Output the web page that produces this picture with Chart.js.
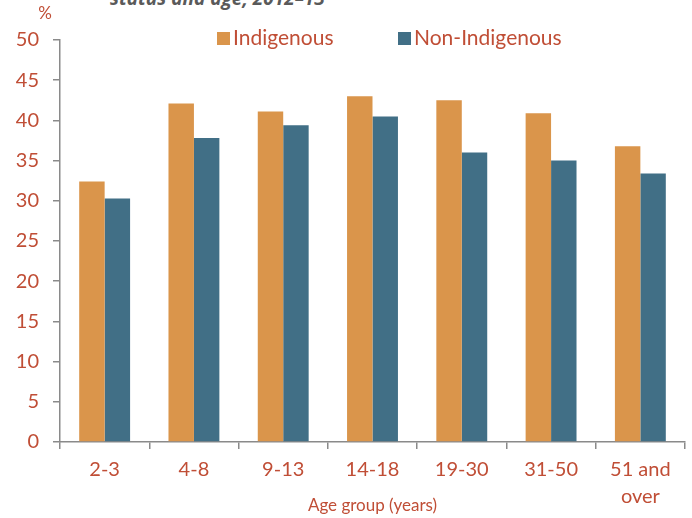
<!DOCTYPE html>
<html>
<head>
<meta charset="utf-8">
<script src="https://cdn.jsdelivr.net/npm/chart.js@4/dist/chart.umd.min.js"></script>
<style>
  html, body { margin: 0; padding: 0; background: #fff; }
  #wrap { position: relative; width: 692px; height: 518px; overflow: hidden; }
  #title { position: absolute; left: 110px; top: -15px; font: italic bold 19px "Open Sans", sans-serif; color: #5a5a5a; white-space: nowrap; }
  canvas { position: absolute; left: 0; top: 0; }
</style>
</head>
<body>
<div id="wrap">
  <div id="title">status and age, 2012–13</div>
  <canvas id="c" width="692" height="518"></canvas>
</div>
<script>
const categories = ['2-3', '4-8', '9-13', '14-18', '19-30', '31-50', ['51 and', 'over']];
const indigenous = [32.4, 42.1, 41.1, 43.0, 42.5, 40.9, 36.8];
const nonIndigenous = [30.3, 37.8, 39.4, 40.5, 36.0, 35.0, 33.4];
const seriesNames = ['Indigenous', 'Non-Indigenous'];
const yTicks = [0, 5, 10, 15, 20, 25, 30, 35, 40, 45, 50];

const TEXT = '#c04e36';
const FONT = 'Lato, "Open Sans", sans-serif';
const AXIS = '#8a8a8a';

const overlay = {
  id: 'overlay',
  afterDraw(chart) {
    const ctx = chart.ctx;
    ctx.save();
    // unit label
    ctx.fillStyle = TEXT;
    ctx.font = '17px ' + FONT;
    ctx.textAlign = 'center';
    ctx.textBaseline = 'middle';
    ctx.fillText('%', 45, 14);
    // legend
    const items = [{x: 217}, {x: 398}];
    ctx.font = '21px ' + FONT;
    ctx.textAlign = 'left';
    chart.data.datasets.forEach((ds, i) => {
      const x = items[i].x;
      ctx.fillStyle = ds.backgroundColor;
      ctx.fillRect(x, 32, 13, 13);
      ctx.fillStyle = TEXT;
      ctx.fillText(ds.label, x + 16, 38.5);
    });
    ctx.restore();
  }
};

new Chart(document.getElementById('c'), {
  type: 'bar',
  data: {
    labels: categories,
    datasets: [
      { label: seriesNames[0], data: indigenous, backgroundColor: '#da954b' },
      { label: seriesNames[1], data: nonIndigenous, backgroundColor: '#416f86' }
    ]
  },
  options: {
    responsive: false,
    animation: false,
    devicePixelRatio: 1,
    layout: { padding: { top: 40, right: 7, left: 0, bottom: 0 } },
    datasets: { bar: { categoryPercentage: 0.57, barPercentage: 1.0 } },
    plugins: { legend: { display: false }, tooltip: { enabled: false } },
    scales: {
      x: {
        grid: { offset: true, drawOnChartArea: false, drawTicks: true, tickLength: 7, color: AXIS, lineWidth: 1.5 },
        border: { color: AXIS, width: 1.5 },
        ticks: { color: TEXT, font: { family: FONT, size: 20, lineHeight: 1.35 }, padding: 7, maxRotation: 0, autoSkip: false },
        title: { display: true, text: 'Age group (years)', color: TEXT, font: { family: FONT, size: 17 }, padding: { top: 0, bottom: 2 } },
        afterFit(scale) { scale.height = 76; }
      },
      y: {
        min: 0, max: 50,
        afterBuildTicks(scale) { scale.ticks = yTicks.map(v => ({ value: v })); },
        grid: { drawOnChartArea: false, drawTicks: true, tickLength: 7, color: AXIS, lineWidth: 1.5 },
        border: { color: AXIS, width: 1.5 },
        ticks: { color: TEXT, font: { family: FONT, size: 20 }, padding: 14 },
        afterFit(scale) { scale.width = 60; }
      }
    }
  },
  plugins: [overlay]
});
</script>
</body>
</html>
